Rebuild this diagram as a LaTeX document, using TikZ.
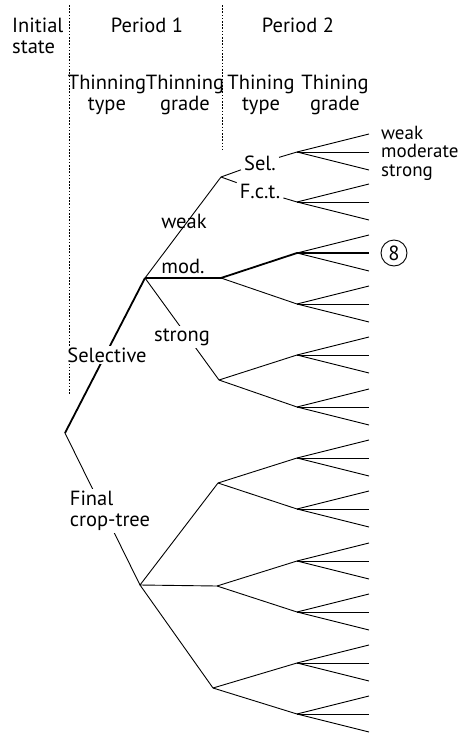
\documentclass[tikz,border=0pt]{standalone}
\usepackage{fontspec}
\setmainfont{PT Sans}
\begin{document}
\begin{tikzpicture}[x=1pt,y=-1pt,
  edge/.style={line width=0.9pt},
  thick edge/.style={line width=1.8pt},
  sep/.style={line width=0.9pt,dash pattern=on 1.6pt off 1.6pt},
  txt/.style={font=\fontsize{20.5}{21}\selectfont,inner sep=1pt,align=center},
  lab/.style={font=\fontsize{20.5}{21}\selectfont,inner sep=1pt},
  onl/.style={font=\fontsize{20.5}{21}\selectfont,inner sep=2pt,fill=white}]
\useasboundingbox (0,0) rectangle (458,736);
% separators
\coordinate (d1t) at (69,5); \coordinate (d1b) at (69,395);
\coordinate (d2t) at (222,5); \coordinate (d2b) at (222,150);
\draw[sep] (d1t) -- (d1b);
\draw[sep] (d2t) -- (d2b);
% headers
\node[txt,align=left,anchor=west] (hinit) at (11,36) {Initial\\state};
\node[txt] (hp1) at (147,25) {Period 1};
\node[txt] (hp2) at (298,25) {Period 2};
\node[txt] (hp1t) at (107,95) {Thinning\\type};
\node[txt] (hp1g) at (185,95) {Thinning\\grade};
\node[txt] (hp2t) at (261,95) {Thining\\type};
\node[txt] (hp2g) at (335,95) {Thining\\grade};
% main nodes
\coordinate (root) at (65,433);
\coordinate (s1) at (145,278);
\coordinate (f1) at (140,585);
\coordinate (a) at (221,177);
\coordinate (b) at (221,278);
\coordinate (c) at (219,380);
\coordinate (d) at (218,483);
\coordinate (e) at (217,586);
\coordinate (g) at (213,688);
\foreach \i/\y in {1/152,2/202,3/253,4/304,5/355,6/407,7/458,8/509,9/561,10/612,11/663,12/714}{
  \coordinate (n\i) at (297,\y);
  \coordinate (n\i a) at (369,\y-18);
  \coordinate (n\i b) at (369,\y);
  \coordinate (n\i c) at (369,\y+18);
}
% period 1 edges
\draw[thick edge] (root) -- (s1);
\draw[edge] (root) -- (f1);
\node[onl] (lsel) at (107,355) {Selective};
\node[onl,align=left] (lfct) at (110,511) {Final\\crop-tree};
\draw[edge] (s1) -- (a);
\draw[thick edge] (s1) -- (b);
\draw[edge] (s1) -- (c);
\node[lab] (lweak) at (184,221) {weak};
\node[lab] (lmod) at (183,266) {mod.};
\node[onl] (lstrong) at (182,337) {strong};
\draw[edge] (f1) -- (d);
\draw[edge] (f1) -- (e);
\draw[edge] (f1) -- (g);
% period 2 type edges
\node[lab,inner sep=3pt] (lsel2) at (260,163) {Sel.};
\node[lab,inner sep=3pt] (lfct2) at (260,191) {F.c.t.};
\draw[edge] (a) -- (lsel2) -- (n1);
\draw[edge] (a) -- (lfct2) -- (n2);
\draw[thick edge] (b) -- (n3);
\draw[edge] (b) -- (n4);
\draw[edge] (c) -- (n5);
\draw[edge] (c) -- (n6);
\draw[edge] (d) -- (n7);
\draw[edge] (d) -- (n8);
\draw[edge] (e) -- (n9);
\draw[edge] (e) -- (n10);
\draw[edge] (g) -- (n11);
\draw[edge] (g) -- (n12);
% leaves
\foreach \i in {1,2,4,5,6,7,8,9,10,11,12}{
  \draw[edge] (n\i) -- (n\i a);
  \draw[edge] (n\i) -- (n\i b);
  \draw[edge] (n\i) -- (n\i c);
}
\draw[edge] (n3) -- (n3a);
\draw[thick edge] (n3) -- (n3b);
\draw[edge] (n3) -- (n3c);
% leaf labels
\node[font=\fontsize{19}{18.5}\selectfont,align=left,anchor=west,inner sep=0pt] (glab) at (381,153) {weak\\moderate\\strong};
\node[lab,draw,circle,line width=0.9pt,minimum size=26pt,inner sep=0pt] (c8) at (394,253) {8};
\end{tikzpicture}
\end{document}
